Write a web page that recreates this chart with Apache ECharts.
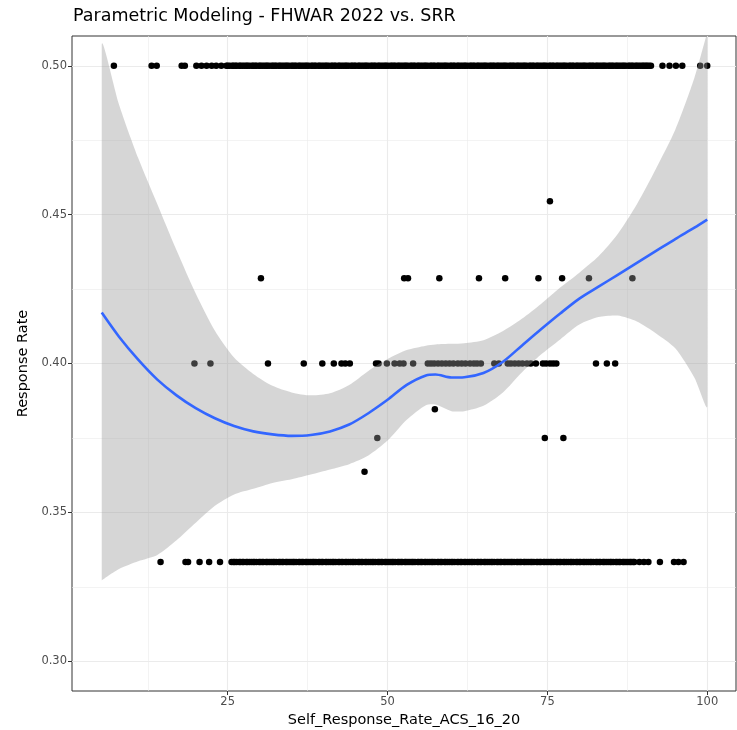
<!DOCTYPE html>
<html>
<head>
<meta charset="utf-8">
<script src="https://cdn.jsdelivr.net/npm/echarts@6/dist/echarts.min.js"></script>
<style>html,body{margin:0;padding:0;background:#fff;}#c{width:737px;height:730px;}</style>
</head>
<body>
<div id="c"></div>
<script>
// ---- data ----
const xTicks = [25, 50, 75, 100];
const yTicks = [0.30, 0.35, 0.40, 0.45, 0.50];

const yLevels = {
  r050: 0.5, r04545: 0.4545, r04286: 0.4286, r040: 0.4, r03846: 0.3846, r0375: 0.375, r03636: 0.3636, r0333: 0.3333
};
const row050X = [7.2, 13.1, 13.9, 17.8, 18.3, 20.1, 20.9, 21.7, 22.5, 23.2, 24.0,
  24.8, 25.0, 25.3, 25.7, 25.9, 26.2, 26.4, 26.8, 27.0, 27.3, 27.6, 27.9, 28.1, 28.4, 28.8, 29.0, 29.3, 29.5, 29.9, 30.1,
  30.4, 30.7, 31.0, 31.2, 31.5, 31.9, 32.1, 32.4, 32.6, 33.0, 33.2, 33.5, 33.8, 34.1, 34.3, 34.6, 35.0, 35.2, 35.5, 35.7,
  36.1, 36.3, 36.6, 36.9, 37.2, 37.4, 37.7, 38.1, 38.3, 38.6, 38.8, 39.2, 39.4, 39.7, 40.0, 40.3, 40.5, 40.8, 41.2, 41.4,
  41.7, 41.9, 42.3, 42.5, 42.8, 43.1, 43.4, 43.6, 43.9, 44.3, 44.5, 44.8, 45.0, 45.4, 45.6, 45.9, 46.2, 46.5, 46.7, 47.0,
  47.4, 47.6, 47.9, 48.1, 48.5, 48.7, 49.0, 49.3, 49.6, 49.8, 50.1, 50.5, 50.7, 51.0, 51.2, 51.6, 51.8, 52.1, 52.4, 52.7,
  52.9, 53.2, 53.6, 53.8, 54.1, 54.3, 54.7, 54.9, 55.2, 55.5, 55.8, 56.0, 56.3, 56.7, 56.9, 57.2, 57.4, 57.8, 58.0, 58.3,
  58.6, 58.9, 59.1, 59.4, 59.8, 60.0, 60.3, 60.5, 60.9, 61.1, 61.4, 61.7, 62.0, 62.2, 62.5, 62.9, 63.1, 63.4, 63.6, 64.0,
  64.2, 64.5, 64.8, 65.1, 65.3, 65.6, 66.0, 66.2, 66.5, 66.7, 67.1, 67.3, 67.6, 67.9, 68.2, 68.4, 68.7, 69.1, 69.3, 69.6,
  69.8, 70.2, 70.4, 70.7, 71.0, 71.3, 71.5, 71.8, 72.2, 72.4, 72.7, 72.9, 73.3, 73.5, 73.8, 74.1, 74.4, 74.6, 74.9, 75.3,
  75.5, 75.8, 76.0, 76.4, 76.6, 76.9, 77.2, 77.5, 77.7, 78.0, 78.4, 78.6, 78.9, 79.1, 79.5, 79.7, 80.0, 80.3, 80.6, 80.8,
  81.1, 81.5, 81.7, 82.0, 82.2, 82.6, 82.8, 83.1, 83.4, 83.7, 83.9, 84.2, 84.6, 84.8, 85.1, 85.3, 85.7, 85.9, 86.2, 86.5,
  86.8, 87.0, 87.3, 87.7, 87.9, 88.2, 88.4, 88.8, 89.0, 89.3, 89.6, 89.9, 90.1, 90.4, 90.6, 90.9, 91.2,
  93.0, 94.1, 95.1, 96.1, 98.9, 100.0];
const row04545X = [75.4];
const row04286X = [30.2, 52.6, 53.2, 58.1, 64.3, 68.4, 73.6, 77.3, 81.5, 88.3];
const row040X = [19.8, 22.3, 31.3, 36.9, 39.8, 41.6, 42.8, 43.4, 44.1, 48.2, 48.6, 49.9, 51.1, 51.9, 52.5, 54.0,
  56.3, 56.8, 57.3, 57.9, 58.5, 59.1, 59.7, 60.3, 61.0, 61.6, 62.2, 62.9, 63.5, 64.0, 64.6, 66.7, 67.4,
  68.8, 69.3, 69.9, 70.5, 71.1, 71.8, 72.4, 73.2, 74.3, 74.8, 75.4, 75.9, 76.4, 82.6, 84.3, 85.6];
const row03846X = [57.4];
const row0375X = [48.4, 74.6, 77.5];
const row03636X = [46.4];
const row0333X = [14.5, 18.4, 18.8, 20.6, 22.1, 23.8,
  25.6, 25.9, 26.1, 26.4, 26.8, 27.0, 27.3, 27.5, 27.9, 28.1, 28.4, 28.7, 29.0, 29.2, 29.5, 29.9, 30.1, 30.4, 30.6, 31.0,
  31.2, 31.5, 31.8, 32.1, 32.3, 32.6, 33.0, 33.2, 33.5, 33.7, 34.1, 34.3, 34.6, 34.9, 35.2, 35.4, 35.7, 36.1, 36.3, 36.6,
  36.8, 37.2, 37.4, 37.7, 38.0, 38.3, 38.5, 38.8, 39.2, 39.4, 39.7, 39.9, 40.3, 40.5, 40.8, 41.1, 41.4, 41.6, 41.9, 42.3,
  42.5, 42.8, 43.0, 43.4, 43.6, 43.9, 44.2, 44.5, 44.7, 45.0, 45.4, 45.6, 45.9, 46.1, 46.5, 46.7, 47.0, 47.3, 47.6, 47.8,
  48.1, 48.5, 48.7, 49.0, 49.2, 49.6, 49.8, 50.1, 50.4, 50.7, 50.9, 51.2, 51.6, 51.8, 52.1, 52.3, 52.7, 52.9, 53.2, 53.5,
  53.8, 54.0, 54.3, 54.7, 54.9, 55.2, 55.4, 55.8, 56.0, 56.3, 56.6, 56.9, 57.1, 57.4, 57.8, 58.0, 58.3, 58.5, 58.9, 59.1,
  59.4, 59.7, 60.0, 60.2, 60.5, 60.9, 61.1, 61.4, 61.6, 62.0, 62.2, 62.5, 62.8, 63.1, 63.3, 63.6, 64.0, 64.2, 64.5, 64.7,
  65.1, 65.3, 65.6, 65.9, 66.2, 66.4, 66.7, 67.1, 67.3, 67.6, 67.8, 68.2, 68.4, 68.7, 69.0, 69.3, 69.5, 69.8, 70.2, 70.4,
  70.7, 70.9, 71.3, 71.5, 71.8, 72.1, 72.4, 72.6, 72.9, 73.3, 73.5, 73.8, 74.0, 74.4, 74.6, 74.9, 75.2, 75.5, 75.7, 76.0,
  76.4, 76.6, 76.9, 77.1, 77.5, 77.7, 78.0, 78.3, 78.6, 78.8, 79.1, 79.5, 79.7, 80.0, 80.2, 80.6, 80.8, 81.1, 81.4, 81.7,
  81.9, 82.2, 82.6, 82.8, 83.1, 83.3, 83.7, 83.9, 84.2, 84.5, 84.8, 85.0, 85.3, 85.7, 85.9, 86.2, 86.4, 86.8, 87.0, 87.3,
  87.6, 87.9, 88.1, 88.4, 88.6,
  89.4, 90.1, 90.8, 92.6, 94.8, 95.5, 96.3];

// smoother (loess-like fit) and its confidence band
const fitX     = [5.3, 8, 11, 14, 17, 20, 23, 26, 29, 32, 35, 38, 41, 44, 47, 50, 53, 56, 57.5, 60, 62, 65, 68, 71, 74, 77, 80, 83, 86, 89, 92, 95, 98, 100];
const fitY     = [0.4171, 0.4090, 0.4013, 0.3946, 0.3893, 0.3850, 0.3816, 0.3790, 0.3772, 0.3762, 0.3757, 0.3760, 0.3772, 0.3795, 0.3833, 0.3878, 0.3928, 0.3960, 0.3963, 0.3953, 0.3954, 0.3968, 0.4005, 0.4060, 0.4115, 0.4168, 0.4218, 0.4258, 0.4298, 0.4338, 0.4378, 0.4418, 0.4456, 0.4483];
const bandUpper = [0.5070, 0.4870, 0.4690, 0.4535, 0.4380, 0.4235, 0.4110, 0.4020, 0.3965, 0.3925, 0.3903, 0.3893, 0.3900, 0.3928, 0.3975, 0.4015, 0.4045, 0.4060, 0.4064, 0.4066, 0.4068, 0.4078, 0.4108, 0.4150, 0.4200, 0.4255, 0.4305, 0.4360, 0.4435, 0.4535, 0.4655, 0.4785, 0.4960, 0.5110];
const bandLower = [0.3272, 0.3310, 0.3336, 0.3357, 0.3406, 0.3465, 0.3522, 0.3560, 0.3579, 0.3599, 0.3611, 0.3627, 0.3644, 0.3662, 0.3691, 0.3741, 0.3811, 0.3860, 0.3862, 0.3840, 0.3840, 0.3858, 0.3902, 0.3970, 0.4030, 0.4081, 0.4131, 0.4156, 0.4161, 0.4141, 0.4101, 0.4051, 0.3952, 0.3856];

// ---- build ----
const rows = [
  [row050X, yLevels.r050], [row04545X, yLevels.r04545], [row04286X, yLevels.r04286], [row040X, yLevels.r040],
  [row03846X, yLevels.r03846], [row0375X, yLevels.r0375], [row03636X, yLevels.r03636], [row0333X, yLevels.r0333]
];
const pts = [];
rows.forEach(([xs, y]) => xs.forEach(x => pts.push([x, y])));
const fitData = fitX.map((x, i) => [x, fitY[i]]);

const FONT = 'DejaVu Sans';
const chart = echarts.init(document.getElementById('c'), null, {renderer: 'canvas'});
chart.setOption({
  backgroundColor: '#fff',
  animation: false,
  title: {
    text: 'Parametric Modeling - FHWAR 2022 vs. SRR',
    left: 68, top: 2,
    textStyle: {fontFamily: FONT, fontSize: 17.5, fontWeight: 'normal', color: '#000'}
  },
  grid: {left: 72, right: 1, top: 36, bottom: 39, outerBoundsMode: 'none', containLabel: false,
    show: true, borderColor: '#333', borderWidth: 1, backgroundColor: 'transparent'},
  xAxis: {
    type: 'value', min: 0.65, max: 104.5, minInterval: 25, maxInterval: 25,
    axisLine: {show: false},
    axisTick: {show: true, length: 4, lineStyle: {color: '#333'}, customValues: xTicks},
    axisLabel: {customValues: xTicks, color: '#4d4d4d', fontFamily: FONT, fontSize: 11.5, margin: 5},
    splitLine: {show: true, lineStyle: {color: '#ebebeb', width: 1.1}},
    minorTick: {show: false, splitNumber: 2},
    minorSplitLine: {show: true, lineStyle: {color: '#ebebeb', width: 0.6}},
    name: 'Self_Response_Rate_ACS_16_20', nameLocation: 'middle', nameGap: 22,
    nameTextStyle: {fontFamily: FONT, fontSize: 14.5, color: '#000'}
  },
  yAxis: {
    type: 'value', min: 0.29, max: 0.51, minInterval: 0.05, maxInterval: 0.05,
    axisLine: {show: false},
    axisTick: {show: true, length: 4, lineStyle: {color: '#333'}, customValues: yTicks},
    axisLabel: {customValues: yTicks, color: '#4d4d4d', fontFamily: FONT, fontSize: 11.5, margin: 5,
      formatter: v => v.toFixed(2)},
    splitLine: {show: true, lineStyle: {color: '#ebebeb', width: 1.1}},
    minorTick: {show: false, splitNumber: 2},
    minorSplitLine: {show: true, lineStyle: {color: '#ebebeb', width: 0.6}},
    name: 'Response Rate', nameLocation: 'middle', nameGap: 36,
    nameTextStyle: {fontFamily: FONT, fontSize: 14.5, color: '#000'}
  },
  series: [
    {
      type: 'scatter', data: pts, symbol: 'circle', symbolSize: 6.5,
      itemStyle: {color: '#000', opacity: 1}, z: 2, silent: true, large: false
    },
    {
      type: 'custom', z: 3, silent: true,
      data: [[fitX[0], fitY[0]]],
      renderItem: function (params, api) {
        const points = [];
        for (let i = 0; i < fitX.length; i++) points.push(api.coord([fitX[i], bandUpper[i]]));
        for (let i = fitX.length - 1; i >= 0; i--) points.push(api.coord([fitX[i], bandLower[i]]));
        let mn = [Infinity, Infinity], mx = [-Infinity, -Infinity];
        points.forEach(p => {
          mn = [Math.min(mn[0], p[0]), Math.min(mn[1], p[1])];
          mx = [Math.max(mx[0], p[0]), Math.max(mx[1], p[1])];
        });
        const cs = params.coordSys;
        return {
          type: 'polygon',
          shape: {points: points, smooth: 0.25, smoothConstraint: [mn, mx]},
          style: {fill: 'rgba(153,153,153,0.4)', stroke: null},
          clipPath: {type: 'rect', shape: {x: cs.x, y: cs.y, width: cs.width, height: cs.height}}
        };
      }
    },
    {
      type: 'line', data: fitData, symbol: 'none', smooth: 0.3, z: 4, silent: true,
      lineStyle: {color: '#3366FF', width: 2.6}
    }
  ]
});
</script>
</body>
</html>
